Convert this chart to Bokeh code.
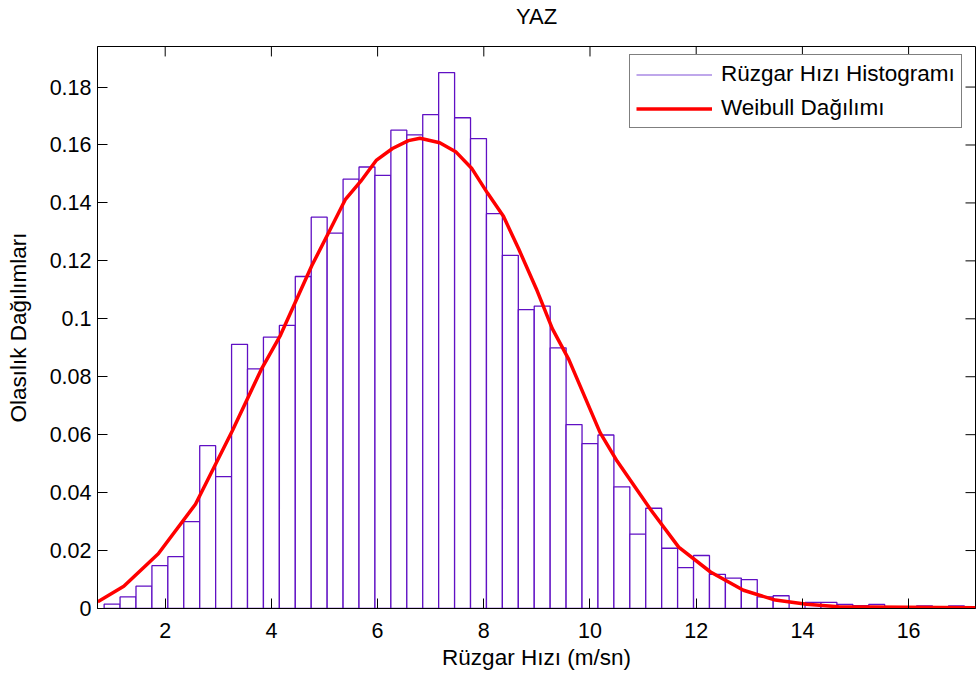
from bokeh.plotting import figure
from bokeh.models import (LinearAxis, FixedTicker, CustomJSTickFormatter, Legend,
                          LegendItem, Range1d, ColumnDataSource)
from bokeh.embed import file_html
from bokeh.resources import INLINE

# ---------------- data ----------------
bin_centers = [1.0, 1.3, 1.6, 1.9, 2.2, 2.5, 2.8, 3.1, 3.4, 3.7,
               4.0, 4.3, 4.6, 4.9, 5.2, 5.5, 5.8, 6.1, 6.4, 6.7,
               7.0, 7.3, 7.6, 7.9, 8.2, 8.5, 8.8, 9.1, 9.4, 9.7,
               10.0, 10.3, 10.6, 10.9, 11.2, 11.5, 11.8, 12.1, 12.4, 12.7,
               13.0, 13.3, 13.6, 13.9, 14.2, 14.5, 14.8, 15.1, 15.4, 15.7,
               16.0, 16.3, 16.6, 16.9, 17.2]
bin_width = 0.3
hist_values = [0.0015, 0.0040, 0.0077, 0.0148, 0.0179, 0.0300, 0.0562, 0.0455, 0.0912, 0.0827,
               0.0937, 0.0977, 0.1146, 0.1351, 0.1296, 0.1482, 0.1524, 0.1495, 0.1651, 0.1635,
               0.1705, 0.1850, 0.1694, 0.1622, 0.1363, 0.1219, 0.1032, 0.1044, 0.0900, 0.0635,
               0.0569, 0.0599, 0.0420, 0.0257, 0.0346, 0.0208, 0.0141, 0.0183, 0.0118, 0.0105,
               0.0100, 0.0040, 0.0044, 0.0000, 0.0021, 0.0021, 0.0014, 0.0010, 0.0014, 0.0005,
               0.0000, 0.0009, 0.0000, 0.0009, 0.0000]

weibull_x = [0.73, 1.22, 1.87, 2.57, 3.26, 3.82, 4.17, 4.45, 4.76, 5.06,
             5.39, 5.68, 5.98, 6.28, 6.58, 6.80, 7.17, 7.47, 7.77, 8.07,
             8.37, 8.66, 8.99, 9.29, 9.60, 10.19, 10.51, 11.14, 11.67, 12.27,
             12.89, 13.49, 14.08, 14.68, 17.26]
weibull_y = [0.0023, 0.0077, 0.0189, 0.0360, 0.0612, 0.0829, 0.0943, 0.1057, 0.1183, 0.1291,
             0.1411, 0.1474, 0.1548, 0.1588, 0.1615, 0.1623, 0.1608, 0.1577, 0.1520, 0.1434,
             0.1354, 0.1240, 0.1103, 0.0966, 0.0860, 0.0607, 0.0509, 0.0342, 0.0212, 0.0126,
             0.0063, 0.0029, 0.0015, 0.0006, 0.0003]

x_ticks = [2, 4, 6, 8, 10, 12, 14, 16]
y_ticks = [0, 0.02, 0.04, 0.06, 0.08, 0.1, 0.12, 0.14, 0.16, 0.18]
x_lim = (0.725, 17.26)
y_lim = (0.0, 0.194)

title_text = "YAZ"
x_label = "Rüzgar Hızı (m/sn)"
y_label = "Olasılık Dağılımları"
legend_hist = "Rüzgar Hızı Histogramı"
legend_curve = "Weibull Dağılımı"

FONT = "Liberation Sans"
bar_color = "#6010C4"

# ---------------- layout ----------------
W, H = 977, 686
B_LEFT, B_RIGHT, B_TOP, B_BOTTOM = 97, 2, 43, 78
FRAME_W = W - B_LEFT - B_RIGHT
FRAME_H = H - B_TOP - B_BOTTOM
TICK_LEN = 10

p = figure(width=W, height=H, output_backend="svg", toolbar_location=None,
           x_range=Range1d(*x_lim), y_range=Range1d(*y_lim),
           min_border_left=B_LEFT, min_border_right=B_RIGHT,
           min_border_top=B_TOP, min_border_bottom=B_BOTTOM,
           x_axis_location=None, y_axis_location=None)
p.background_fill_color = "white"
p.border_fill_color = "white"
p.outline_line_color = "black"
p.outline_line_width = 1
p.xgrid.visible = False
p.ygrid.visible = False

src = ColumnDataSource(dict(
    left=[c - bin_width / 2 for c in bin_centers],
    right=[c + bin_width / 2 for c in bin_centers],
    top=hist_values,
    bottom=[0] * len(hist_values),
))
p.quad(left="left", right="right", top="top", bottom="bottom", source=src,
       fill_color="white", line_color=bar_color, line_width=1.3)

curve = p.line(weibull_x, weibull_y, line_color="#FF0000", line_width=3.5)
dummy = p.line(x=[float("nan")], y=[float("nan")], line_color="#8050D8", line_width=1.2)

# inward ticks on the top and right edges of the box
dy = TICK_LEN * (y_lim[1] - y_lim[0]) / FRAME_H
dx = TICK_LEN * (x_lim[1] - x_lim[0]) / FRAME_W
p.segment(x0=x_ticks, x1=x_ticks, y0=[y_lim[1]] * len(x_ticks),
          y1=[y_lim[1] - dy] * len(x_ticks), line_color="black", line_width=1)
p.segment(x0=[x_lim[1]] * len(y_ticks), x1=[x_lim[1] - dx] * len(y_ticks),
          y0=y_ticks, y1=y_ticks, line_color="black", line_width=1)

fmt = CustomJSTickFormatter(code="return String(Number(tick.toFixed(6)));")


def style_axis(ax):
    ax.axis_line_color = "black"
    ax.axis_line_width = 1
    ax.major_tick_in = TICK_LEN
    ax.major_tick_out = 0
    ax.major_tick_line_color = "black"
    ax.minor_tick_line_color = None
    ax.major_label_text_font = FONT
    ax.major_label_text_color = "black"
    ax.major_label_text_font_size = "21.5px"
    ax.major_label_text_line_height = 1.0
    ax.axis_label_text_font = FONT
    ax.axis_label_text_font_style = "normal"
    ax.axis_label_text_color = "black"
    ax.axis_label_text_font_size = "22.5px"
    ax.axis_label_text_line_height = 1.0


xb = LinearAxis(ticker=FixedTicker(ticks=x_ticks), formatter=fmt, axis_label=x_label)
style_axis(xb)
xb.major_label_standoff = 14
xb.axis_label_standoff = 4
p.add_layout(xb, "below")

yl = LinearAxis(ticker=FixedTicker(ticks=y_ticks), formatter=fmt, axis_label=y_label)
style_axis(yl)
yl.major_label_standoff = 6
yl.axis_label_standoff = 16
p.add_layout(yl, "left")

# chart title, carried by a tick-less axis above the box
xt = LinearAxis(ticker=FixedTicker(ticks=[]), axis_label=title_text)
style_axis(xt)
xt.axis_line_color = None
xt.major_label_standoff = 0
xt.axis_label_standoff = 18
xt.axis_label_text_font_size = "22px"
p.add_layout(xt, "above")

legend = Legend(items=[LegendItem(label=legend_hist, renderers=[dummy]),
                       LegendItem(label=legend_curve, renderers=[curve])],
                location=(532, 480), margin=0, padding=6, spacing=8,
                glyph_width=76, glyph_height=25, label_height=25, label_standoff=9,
                label_text_font=FONT, label_text_font_size="22.5px", label_text_color="black",
                label_text_line_height=1.0,
                border_line_color="black", border_line_width=1,
                background_fill_color="white", background_fill_alpha=1.0)
p.add_layout(legend, "center")

open("out.html", "w").write(file_html(p, INLINE))
